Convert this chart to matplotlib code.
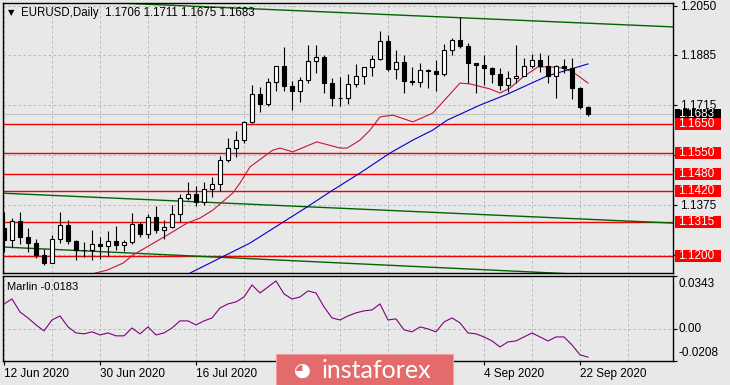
import matplotlib
matplotlib.use("Agg")
import matplotlib.pyplot as plt
import matplotlib.transforms as mtransforms
from matplotlib.patches import Rectangle
import pandas as pd

plt.rcParams['font.family'] = ['Liberation Sans', 'DejaVu Sans']

# --- data ---
dates = pd.bdate_range('2020-06-12', '2020-09-23')

opens = [1.1295, 1.1255, 1.1318, 1.1264, 1.1243, 1.1205, 1.1177, 1.1258, 1.1307, 1.1250, 1.1219, 1.1219, 1.1242,
         1.1234, 1.1252, 1.1237, 1.1246, 1.1309, 1.1274, 1.1331, 1.1289, 1.1300, 1.1343, 1.1398, 1.1411, 1.1383,
         1.1428, 1.1444, 1.1527, 1.1568, 1.1596, 1.1655, 1.1752, 1.1718, 1.1791, 1.1846, 1.1777, 1.1761, 1.1800,
         1.1863, 1.1875, 1.1787, 1.1736, 1.1738, 1.1784, 1.1813, 1.1842, 1.1870, 1.1931, 1.1836, 1.1859, 1.1795,
         1.1792, 1.1832, 1.1829, 1.1818, 1.1902, 1.1936, 1.1914, 1.1856, 1.1850, 1.1838, 1.1818, 1.1780, 1.1805,
         1.1812, 1.1845, 1.1866, 1.1846, 1.1811, 1.1845, 1.1838, 1.1772, 1.1706]
highs = [1.1348, 1.1330, 1.1350, 1.1294, 1.1258, 1.1225, 1.1272, 1.1349, 1.1323, 1.1255, 1.1248, 1.1289, 1.1265,
         1.1285, 1.1303, 1.1254, 1.1346, 1.1317, 1.1344, 1.1371, 1.1323, 1.1375, 1.1411, 1.1452, 1.1438, 1.1451,
         1.1469, 1.1540, 1.1601, 1.1626, 1.1660, 1.1781, 1.1776, 1.1805, 1.1847, 1.1909, 1.1794, 1.1810, 1.1917,
         1.1916, 1.1884, 1.1806, 1.1808, 1.1818, 1.1853, 1.1844, 1.1883, 1.1966, 1.1951, 1.1902, 1.1882, 1.1844,
         1.1855, 1.1837, 1.1866, 1.1922, 1.1940, 1.2011, 1.1925, 1.1857, 1.1882, 1.1841, 1.1840, 1.1829, 1.1917,
         1.1873, 1.1888, 1.1889, 1.1882, 1.1848, 1.1871, 1.1873, 1.1776, 1.1711]
lows = [1.1215, 1.1230, 1.1242, 1.1212, 1.1193, 1.1168, 1.1175, 1.1243, 1.1241, 1.1185, 1.1195, 1.1188, 1.1190,
        1.1200, 1.1219, 1.1217, 1.1242, 1.1264, 1.1262, 1.1278, 1.1257, 1.1295, 1.1317, 1.1390, 1.1370, 1.1375,
        1.1402, 1.1422, 1.1520, 1.1538, 1.1585, 1.1653, 1.1688, 1.1710, 1.1761, 1.1762, 1.1696, 1.1724, 1.1788,
        1.1821, 1.1753, 1.1711, 1.1711, 1.1717, 1.1776, 1.1786, 1.1812, 1.1866, 1.1830, 1.1802, 1.1753, 1.1780,
        1.1774, 1.1771, 1.1762, 1.1813, 1.1884, 1.1906, 1.1789, 1.1754, 1.1782, 1.1788, 1.1765, 1.1758, 1.1788,
        1.1812, 1.1839, 1.1827, 1.1789, 1.1737, 1.1822, 1.1733, 1.1699, 1.1675]
closes = [1.1255, 1.1318, 1.1264, 1.1243, 1.1205, 1.1177, 1.1258, 1.1307, 1.1250, 1.1219, 1.1219, 1.1242, 1.1234,
          1.1252, 1.1237, 1.1246, 1.1309, 1.1274, 1.1331, 1.1289, 1.1300, 1.1343, 1.1398, 1.1411, 1.1383, 1.1428,
          1.1444, 1.1527, 1.1568, 1.1596, 1.1655, 1.1752, 1.1718, 1.1791, 1.1846, 1.1777, 1.1761, 1.1800, 1.1863,
          1.1875, 1.1787, 1.1736, 1.1738, 1.1784, 1.1813, 1.1842, 1.1870, 1.1931, 1.1836, 1.1859, 1.1795, 1.1792,
          1.1832, 1.1829, 1.1818, 1.1902, 1.1936, 1.1914, 1.1856, 1.1850, 1.1838, 1.1818, 1.1780, 1.1805, 1.1812,
          1.1845, 1.1866, 1.1846, 1.1811, 1.1845, 1.1838, 1.1772, 1.1706, 1.1683]

marlin = [0.0162, 0.0194, 0.0110, 0.0071, 0.0026, -0.0013, 0.0058, 0.0084, 0.0013, -0.0026, -0.0032, -0.0019,
          -0.0039, -0.0026, -0.0045, -0.0045, 0.0006, -0.0032, 0.0013, -0.0039, -0.0026, 0.0006, 0.0052, 0.0052,
          0.0026, 0.0052, 0.0071, 0.0136, 0.0162, 0.0175, 0.0207, 0.0285, 0.0233, 0.0272, 0.0311, 0.0227, 0.0194,
          0.0207, 0.0246, 0.0233, 0.0143, 0.0071, 0.0058, 0.0084, 0.0104, 0.0117, 0.0123, 0.0162, 0.0058, 0.0065,
          -0.0006, -0.0019, 0.0013, 0.0000, -0.0019, 0.0045, 0.0071, 0.0039, -0.0026, -0.0032, -0.0052, -0.0078,
          -0.0117, -0.0084, -0.0078, -0.0052, -0.0026, -0.0052, -0.0078, -0.0052, -0.0052, -0.0104, -0.0168, -0.0183]

# moving averages (bar position, price)
red_ma_x = [10.0, 11.4, 12.9, 14.9, 16.1, 18.25, 20.4, 22.9, 24.5, 26.1, 28.6, 29.5, 30.75, 33.6, 34.5, 36.1,
            39.1, 42.0, 42.9, 44.5, 45.75, 47.0, 48.6, 51.1, 53.6, 57.0, 58.25, 60.75, 62.0, 63.25, 64.9, 66.75,
            68.25, 69.9, 71.1, 73.0]
red_ma_y = [1.1125, 1.1142, 1.1152, 1.1176, 1.1203, 1.1237, 1.1271, 1.1312, 1.1329, 1.1356, 1.1414, 1.1448,
            1.1503, 1.1560, 1.1567, 1.1554, 1.1588, 1.1567, 1.1567, 1.1594, 1.1628, 1.1673, 1.1679, 1.1656, 1.1686,
            1.1788, 1.1785, 1.1768, 1.1754, 1.1771, 1.1809, 1.1843, 1.1843, 1.1839, 1.1826, 1.1788]
blue_ma_x = [21.5, 23.25, 30.75, 37.9, 40.75, 44.5, 48.25, 51.1, 53.6, 55.4, 59.5, 62.9, 67.9, 73.0]
blue_ma_y = [1.1108, 1.1142, 1.1244, 1.1367, 1.1418, 1.1482, 1.1550, 1.1594, 1.1628, 1.1662, 1.1713, 1.1750,
             1.1812, 1.1853]

# trend lines: (bar, price) end points
trend_lines = [
    ([0.0, 83.6], [1.2077, 1.1979]),
    ([-0.5, 83.6], [1.1414, 1.1312]),
    ([-0.5, 83.6], [1.1231, 1.1123]),
]
levels = [1.1650, 1.1550, 1.1480, 1.1420, 1.1315, 1.1200]
grid_levels = [1.2050, 1.1885, 1.1715, 1.1545, 1.1375, 1.1205]
grid_labels = ['1.2050', '1.1885', '1.1715', '', '1.1375', '']
last_price = 1.1683
tick_dates = ['2020-06-12', '2020-06-30', '2020-07-16', '2020-08-03', '2020-08-19', '2020-09-04', '2020-09-22']

# --- figure ---
W, H = 730, 385
BG = '#E8E8E8'
GRID = '#B0B0B0'


def box(x0, y0, x1, y1):
    return [x0 / W, 1 - y1 / H, (x1 - x0) / W, (y1 - y0) / H]


fig = plt.figure(figsize=(W / 100, H / 100), dpi=100, facecolor=BG)
ax = fig.add_axes(box(3, 3, 673, 273), facecolor=BG)
ax2 = fig.add_axes(box(3, 276, 673, 361), facecolor=BG)

x = list(range(len(closes)))
xmin, xmax = -0.125, 83.625

# grid
for g in range(0, 84, 6):
    for a in (ax, ax2):
        a.axvline(g, color=GRID, lw=0.6, ls=(0, (3, 3)), zorder=0)
for lv in grid_levels:
    ax.axhline(lv, color=GRID, lw=0.6, ls=(0, (3, 3)), zorder=0)
ax2.axhline(0.0, color=GRID, lw=0.6, ls=(0, (3, 3)), zorder=0)

# horizontal levels and bid line
ax.axhline(last_price, color='#C4C4C4', lw=0.8, zorder=1)
for lv in levels:
    ax.axhline(lv, color='#F00000', lw=1.0, zorder=1)

# trend lines and MAs
for tx, ty in trend_lines:
    ax.plot(tx, ty, color='#006400', lw=1.0, zorder=2)
ax.plot(red_ma_x, red_ma_y, color='#C8143C', lw=0.8, zorder=2)
ax.plot(blue_ma_x, blue_ma_y, color='#0000C8', lw=0.8, zorder=2)

# candles
for i in x:
    o, h, l, c = opens[i], highs[i], lows[i], closes[i]
    ax.vlines(i, l, h, color='black', lw=0.8, zorder=3)
    lo, hi = min(o, c), max(o, c)
    hgt = max(hi - lo, 0.00004)
    fc = 'white' if c > o else 'black'
    ax.add_patch(Rectangle((i - 0.31, lo), 0.62, hgt, facecolor=fc, edgecolor='black', lw=0.8, zorder=4))

ax.set_xlim(xmin, xmax)
ax.set_ylim(1.11422, 1.20602)
ax.set_xticks([])
ax.yaxis.tick_right()
ax.set_yticks(grid_levels, grid_labels)
ax.tick_params(axis='y', length=3, pad=2, labelsize=8.5, color='black')

# right-side price boxes
trans = mtransforms.blended_transform_factory(ax.transAxes, ax.transData)
px = 0.00034
for lv in [last_price] + levels:
    col = 'black' if lv == last_price else '#FF0000'
    bh = (10 if lv == last_price else 12) * px
    ax.add_patch(Rectangle((1.003, lv - bh / 2), 46 / 670, bh, transform=trans, facecolor=col,
                           edgecolor='none', clip_on=False, zorder=6))
    ax.text(1.0075, lv, f'{lv:.4f}', transform=trans, color='white', fontsize=8.5, va='center', ha='left',
            clip_on=False, zorder=7)

# bottom panel
ax2.plot(x, marlin, color='#800080', lw=0.8)
ax2.set_xlim(xmin, xmax)
ax2.set_ylim(-0.0208, 0.0343)
ax2.yaxis.tick_right()
ax2.set_yticks([0.0343, 0.0, -0.0208], ['', '', ''])
ax2.tick_params(axis='y', length=3)
ax2.text(1.0075, 0.906, '0.0343', transform=ax2.transAxes, fontsize=8.5, va='center')
ax2.text(1.0075, 0.376, '0.00', transform=ax2.transAxes, fontsize=8.5, va='center')
ax2.text(1.0075, 0.094, '-0.0208', transform=ax2.transAxes, fontsize=8.5, va='center')
ax2.text(0.006, 0.87, 'Marlin -0.0183', transform=ax2.transAxes, fontsize=8, va='center')

date_str = [d.strftime('%Y-%m-%d') for d in dates]
tick_pos = [date_str.index(d) for d in tick_dates]
tick_lab = [dates[p].strftime('%-d %b %Y') for p in tick_pos]
ax2.set_xticks(tick_pos, tick_lab)
for t in ax2.get_xticklabels():
    t.set_ha('left')
ax2.tick_params(axis='x', length=3, pad=2, labelsize=8.5)

for a in (ax, ax2):
    for s in a.spines.values():
        s.set_color('black')
        s.set_linewidth(1.0)

# title
fig.text(8 / W, 1 - 13 / H, '▼', fontsize=6, va='center', family='DejaVu Sans')
fig.text(21 / W, 1 - 13 / H, 'EURUSD,Daily  1.1706 1.1711 1.1675 1.1683', fontsize=8.3, va='center')

# watermark
fig.add_artist(Rectangle((276 / W, 0), (453 - 276) / W, (385 - 354) / H, transform=fig.transFigure,
                         facecolor='#E36B6B', edgecolor='#F0A0A0', lw=0.8, zorder=10))
fig.text(302 / W, 1 - 370 / H, '◕', fontsize=14, color='white', va='center', ha='center',
         family='DejaVu Sans', zorder=11)
fig.text(322 / W, 1 - 371 / H, 'instaforex', fontsize=18, color='white', va='center', family='Lato', zorder=11)

fig.savefig('out.png', dpi=100, facecolor=BG)
